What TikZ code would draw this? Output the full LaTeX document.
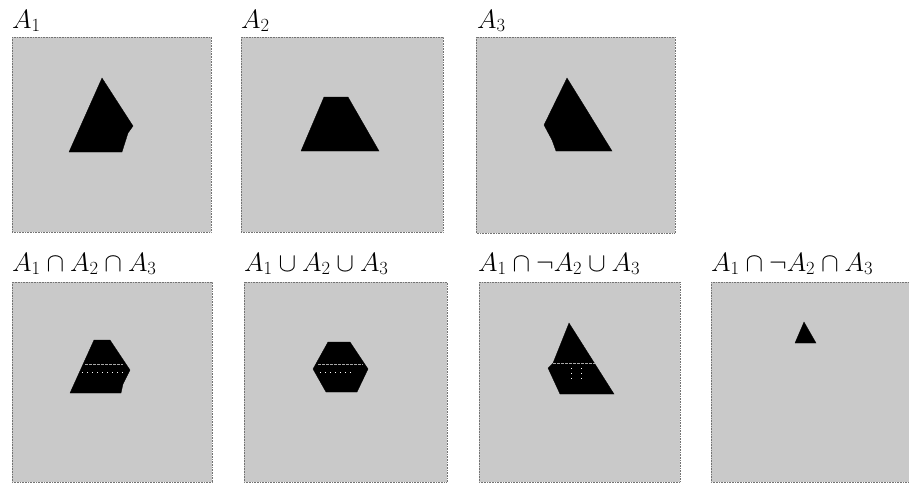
\RequirePackage{fix-cm}
\documentclass[tikz,border=0pt]{standalone}
\begin{document}
\begin{tikzpicture}[x=1pt,y=-1pt,
  panel/.style={fill=black!21, draw=black!55, line width=0.6pt, densely dotted},
  blob/.style={fill=black, draw=black, line width=0.3pt},
  seam/.style={draw=black!35, line width=1pt, dash pattern=on 3pt off 1pt},
  seamdots/.style={draw=white, line width=0.9pt, dash pattern=on 1pt off 4pt},
  lab/.style={anchor=base west, inner sep=0pt, font=\fontsize{26.5}{30}\selectfont}]
\useasboundingbox (0,0) rectangle (909,482);
% panels
\fill[white] (0,0) rectangle (909,482);
\path[panel] (12,37) rectangle (211,232);
\path[panel] (241,37) rectangle (443,232);
\path[panel] (476,37) rectangle (675,233);
\path[panel] (12,282) rectangle (212,482);
\path[panel] (244,282) rectangle (447,482);
\path[panel] (479,282) rectangle (680,482);
\path[panel] (711,282) rectangle (909,482);
% labels
\node[lab] (l1) at (12,28) {$A_1$};
\node[lab] (l2) at (241,28) {$A_2$};
\node[lab] (l3) at (477,28) {$A_3$};
\node[lab] (l4) at (12,271) {$A_1\cap A_2\cap A_3$};
\node[lab] (l5) at (244,271) {$A_1\cup A_2\cup A_3$};
\node[lab] (l6) at (478,271) {$A_1\cap\neg A_2\cup A_3$};
\node[lab] (l7) at (711,271) {$A_1\cap\neg A_2\cap A_3$};
% shapes, top row
\path[blob] (69,152) -- (102,78) -- (133,126) -- (128,133) -- (122,152) -- cycle;
\path[blob] (301,151) -- (324,97) -- (348,97) -- (379,151) -- cycle;
\path[blob] (567,78) -- (612,151) -- (556,151) -- (552,140) -- (544,125) -- cycle;
% bottom row
\path[blob] (70,393) -- (94,340) -- (110,340) -- (130,370) -- (123,384) -- (121,393) -- cycle;
\draw[seam] (85,364) -- (123,364);
\draw[seamdots] (82,372.7) -- (125,372.7);
\path[blob] (328,342) -- (350,342) -- (368,369) -- (357,392) -- (326,392) -- (313,369) -- cycle;
\draw[seam] (318,364) -- (363,364);
\draw[seamdots] (320,372.7) -- (352,372.7);
\path[blob] (569,323) -- (614,394) -- (560,394) -- (548,368) -- (553,363) -- cycle;
\draw[seam] (553,363) -- (595,363);
\draw[seamdots] (571.7,368) -- (571.7,380);
\draw[seamdots] (581.7,368) -- (581.7,380);
\path[blob] (804,322) -- (816,343) -- (795,343) -- cycle;
\end{tikzpicture}
\end{document}
